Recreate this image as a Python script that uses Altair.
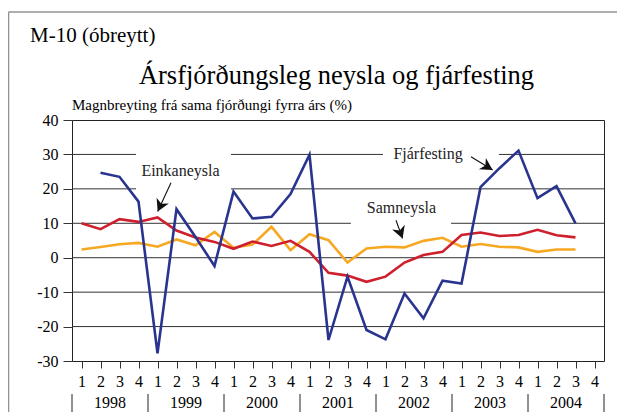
import altair as alt
import pandas as pd

# ---- data (quarter index 0 = 1998 Q1) ----
quarter_idx = list(range(27))  # 1998Q1 .. 2004Q3
fjarfesting = [None, 24.7, 23.5, 16.3,
               -27.8, 14.1, 6.0, -2.4,
               19.2, 11.4, 11.9, 18.5,
               29.9, -23.9, -5.5, -21.0,
               -23.7, -10.4, -17.6, -6.7,
               -7.5, 20.5, 26.0, 31.1,
               17.3, 20.8, 10.0]
einkaneysla = [10.0, 8.3, 11.2, 10.4,
               11.7, 7.9, 5.9, 4.6,
               2.6, 4.7, 3.4, 4.9,
               1.7, -4.4, -5.2, -7.0,
               -5.5, -1.4, 0.8, 1.7,
               6.6, 7.3, 6.3, 6.6,
               8.1, 6.5, 5.9]
samneysla = [2.4, 3.1, 3.9, 4.3,
             3.2, 5.3, 3.6, 7.5,
             2.9, 3.8, 9.0, 2.2,
             6.8, 5.1, -1.4, 2.7,
             3.2, 3.0, 4.9, 5.8,
             3.2, 4.0, 3.2, 3.0,
             1.7, 2.4, 2.4]
series_names = ["Samneysla", "Einkaneysla", "Fjárfesting"]
series_colors = ["#F7A823", "#CE1F2D", "#29348F"]

years = ["1998", "1999", "2000", "2001", "2002", "2003", "2004"]
quarter_labels = ["1", "2", "3", "4"]
y_ticks = [-30, -20, -10, 0, 10, 20, 30, 40]

# gridline segments (value, from, to) - broken behind the labels
grid_val = [30, 30, 30, 20, 20, 10, 10, 0, -10, -20]
grid_from = [-0.5, 7.87, 21.97, -0.5, 7.87, -0.5, 19.45, -0.5, -0.5, -0.5]
grid_to = [2.87, 15.87, 27.5, 2.87, 27.5, 14.18, 27.5, 27.5, 27.5, 27.5]

# annotations
ann_text = ["Einkaneysla", "Samneysla", "Fjárfesting"]
ann_x = [5.21, 16.84, 18.24]
ann_y = [25.3, 14.3, 30.1]
arrow_x0 = [4.71, 16.55, 20.5]
arrow_y0 = [21.8, 10.9, 29.3]
arrow_x1 = [4.01, 16.9, 21.64]
arrow_y1 = [13.4, 5.6, 25.5]
arrow_angle = [204.6, 159.9, 121.5]

title_top = "M-10 (óbreytt)"
title_main = "Ársfjórðungsleg neysla og fjárfesting"
subtitle = "Magnbreyting frá sama fjórðungi fyrra árs (%)"

FONT = "Liberation Serif, serif"
W, H = 532, 241

rows = []
for name, vals in zip(["Fjárfesting", "Einkaneysla", "Samneysla"],
                      [fjarfesting, einkaneysla, samneysla]):
    for q, v in zip(quarter_idx, vals):
        if v is not None:
            rows.append({"q": q, "v": v, "s": name})
df = pd.DataFrame(rows)

xscale = alt.Scale(domain=[-0.5, 27.5], nice=False, zero=False)
yscale = alt.Scale(domain=[-30, 40], nice=False, zero=False)

xaxis = alt.Axis(values=list(range(28)), labelExpr="['1','2','3','4'][datum.value % 4]",
                 title=None, grid=False, domain=False, tickSize=7, tickColor="#333",
                 labelFont=FONT, labelFontSize=16, labelColor="black", labelPadding=5,
                 labelFlush=False, labelOverlap=False)
yaxis = alt.Axis(values=y_ticks, labelExpr="'' + datum.value",
                 title=None, grid=False, domain=False, tickSize=9,
                 tickColor="#333", labelFont=FONT, labelFontSize=16, labelColor="black",
                 labelPadding=5)


def X(field):
    return alt.X(field, scale=xscale, axis=xaxis)


def Y(field):
    return alt.Y(field, scale=yscale, axis=yaxis)


grid_df = pd.DataFrame({"v": grid_val, "x0": grid_from, "x1": grid_to})
grid = alt.Chart(grid_df).mark_rule(color="#333", strokeWidth=1).encode(
    x=X("x0:Q"), x2="x1:Q", y=Y("v:Q"),
)

lines = alt.Chart(df).mark_line(strokeWidth=2.6).encode(
    x=X("q:Q"),
    y=Y("v:Q"),
    color=alt.Color("s:N", scale=alt.Scale(domain=series_names, range=series_colors),
                    legend=None),
    order=alt.Order("q:Q"),
)
# draw order: yellow, red, blue
line_layers = [lines.transform_filter(alt.datum.s == n) for n in series_names]

ann_df = pd.DataFrame({"t": ann_text, "x": ann_x, "y": ann_y})
ann = alt.Chart(ann_df).mark_text(font=FONT, fontSize=16, color="#222",
                                  baseline="middle", align="center").encode(
    x=X("x:Q"), y=Y("y:Q"), text="t:N",
)

arr_df = pd.DataFrame({"x0": arrow_x0, "y0": arrow_y0, "x1": arrow_x1,
                       "y1": arrow_y1, "a": arrow_angle})
arrow_lines = alt.Chart(arr_df).mark_rule(color="#111", strokeWidth=1.1).encode(
    x=X("x0:Q"), y=Y("y0:Q"), x2="x1:Q", y2="y1:Q",
)
arrow_heads = alt.Chart(arr_df).mark_point(
    shape="M0,0 L0.75,1.35 L0,0.95 L-0.75,1.35 Z", filled=True, opacity=1,
    color="#111", size=320, strokeWidth=0).encode(
    x=X("x1:Q"), y=Y("y1:Q"),
    angle=alt.Angle("a:Q", scale=None),
)

# year row beneath the quarter labels
year_df = pd.DataFrame({"yr": years, "x": [1.5 + 4 * i for i in range(len(years))]})
year_text = alt.Chart(year_df).mark_text(font=FONT, fontSize=16, color="black",
                                         baseline="middle").encode(
    x=X("x:Q"), y=alt.value(H + 42), text="yr:N",
)
sep_df = pd.DataFrame({"x": [-0.5 + 4 * i for i in range(len(years) + 1)]})
year_sep = alt.Chart(sep_df).mark_rule(color="#222", strokeWidth=1).encode(
    x=X("x:Q"), y=alt.value(H + 33), y2=alt.value(H + 52),
)

# outer frame
one = pd.DataFrame({"k": [0]})
frame_top = alt.Chart(one).mark_rule(color="#939393", strokeWidth=1.6).encode(
    x=alt.value(-63.5), x2=alt.value(W + 14), y=alt.value(-108))
frame_left = alt.Chart(one).mark_rule(color="#939393", strokeWidth=1.6).encode(
    x=alt.value(-63.5), y=alt.value(-108), y2=alt.value(H + 60))

# titles
t1 = alt.Chart(pd.DataFrame({"t": [title_top]})).mark_text(
    font=FONT, fontSize=21, color="black", align="left", baseline="alphabetic").encode(
    x=alt.value(-42), y=alt.value(-78), text="t:N")
t2 = alt.Chart(pd.DataFrame({"t": [title_main]})).mark_text(
    font=FONT, fontSize=26.5, color="black", align="center", baseline="alphabetic").encode(
    x=alt.value(264.5), y=alt.value(-36), text="t:N")
t3 = alt.Chart(pd.DataFrame({"t": [subtitle]})).mark_text(
    font=FONT, fontSize=15, color="black", align="left", baseline="alphabetic").encode(
    x=alt.value(0), y=alt.value(-10), text="t:N")

chart = alt.layer(
    grid, *line_layers, ann, arrow_lines, arrow_heads, year_text, year_sep,
    frame_top, frame_left, t1, t2, t3
).properties(
    width=W, height=H,
    padding={"left": 64, "top": 112, "right": 13, "bottom": 51},
    autosize=alt.AutoSizeParams(type="none"),
).configure_view(stroke="#222", strokeWidth=1)

chart.save("out.html", embed_options={"renderer": "svg", "actions": False})
